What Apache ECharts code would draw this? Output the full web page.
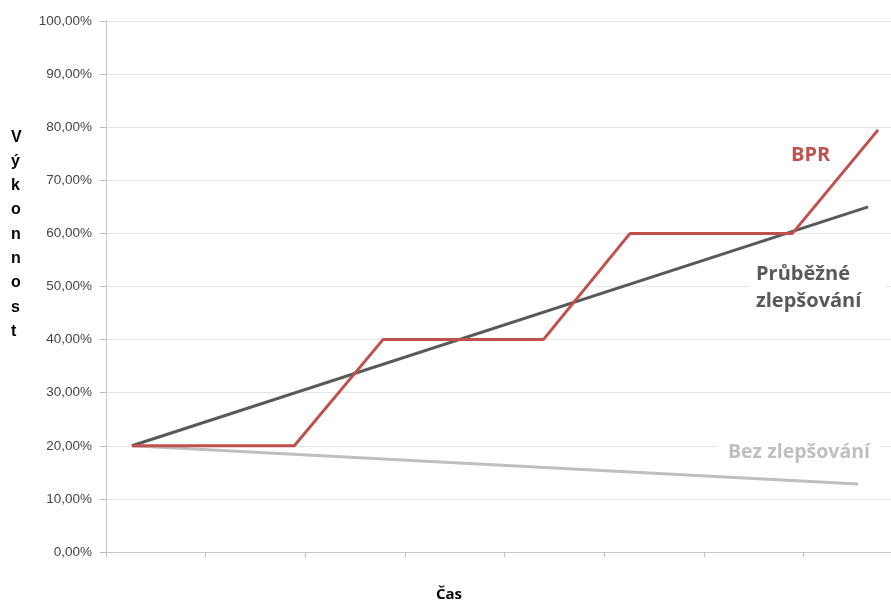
<!DOCTYPE html>
<html>
<head>
<meta charset="utf-8">
<script src="https://cdn.jsdelivr.net/npm/echarts@6/dist/echarts.min.js"></script>
<style>
  html, body { margin: 0; padding: 0; background: #fff; }
  #chart { width: 891px; height: 603px; }
</style>
</head>
<body>
<div id="chart"></div>
<script>
// Time positions (in axis units) and performance values (%)
const bprTime = [0.26, 1.89, 2.78, 4.39, 5.26, 6.89, 7.75];
const bprValues = [20, 20, 40, 40, 60, 60, 79.5];

const continuousTime = [0.26, 7.65];
const continuousValues = [20, 65];

const noImprovementTime = [0.26, 7.55];
const noImprovementValues = [20, 12.8];

const yTicks = [0, 10, 20, 30, 40, 50, 60, 70, 80, 90, 100];
const yTitle = 'Výkonnost';
const xTitle = 'Čas';

const pairs = (xs, ys) => xs.map((x, i) => [x, ys[i]]);

const chart = echarts.init(document.getElementById('chart'));

const textFont = '"Open Sans", "Liberation Sans", sans-serif';

chart.setOption({
  animation: false,
  backgroundColor: '#ffffff',
  grid: {
    left: 106, top: 21, bottom: 51, right: -12,
    outerBoundsMode: 'none'
  },
  xAxis: {
    type: 'value',
    min: 0, max: 8, interval: 1,
    axisLine: { show: true, lineStyle: { color: '#C8C8C8', width: 1 } },
    axisTick: { show: true, length: 5, lineStyle: { color: '#BDBDBD' } },
    axisLabel: { show: false },
    splitLine: { show: false }
  },
  yAxis: {
    type: 'value',
    min: yTicks[0], max: yTicks[yTicks.length - 1], interval: 10,
    axisLine: { show: true, lineStyle: { color: '#C8C8C8', width: 1 } },
    axisTick: { show: true, length: 6, lineStyle: { color: '#BDBDBD' } },
    axisLabel: {
      margin: 14,
      color: '#454545',
      fontSize: 13.5,
      fontFamily: '"Liberation Sans", sans-serif',
      formatter: v => v.toFixed(2).replace('.', ',') + '%'
    },
    splitLine: { show: true, lineStyle: { color: '#E6E6E6', width: 1 } }
  },
  series: [
    {
      name: 'Bez zlepšování',
      type: 'line',
      data: pairs(noImprovementTime, noImprovementValues),
      symbol: 'none',
      lineStyle: { color: '#BFBFBF', width: 3 },
      z: 2
    },
    {
      name: 'Průběžné zlepšování',
      type: 'line',
      data: pairs(continuousTime, continuousValues),
      symbol: 'none',
      lineStyle: { color: '#595959', width: 3 },
      z: 3
    },
    {
      name: 'BPR',
      type: 'line',
      data: pairs(bprTime, bprValues),
      symbol: 'none',
      lineStyle: { color: '#C0504D', width: 3 },
      z: 4
    }
  ],
  graphic: [
    {
      type: 'text', left: 791, top: 145, z: 10,
      style: { text: 'BPR', fill: '#C0504D', font: 'bold 20px ' + textFont }
    },
    {
      type: 'text', left: 750, top: 259, z: 10,
      style: {
        text: 'Průběžné\nzlepšování', fill: '#595959', align: 'center',
        font: 'bold 20px ' + textFont, lineHeight: 27,
        backgroundColor: '#ffffff', padding: [2, 6, 2, 6], width: 124
      }
    },
    {
      type: 'text', left: 718, top: 440, z: 10,
      style: {
        text: 'Bez zlepšování', fill: '#BFBFBF',
        font: 'bold 19.5px ' + textFont,
        backgroundColor: '#ffffff', padding: [2, 10, 2, 10]
      }
    },
    {
      type: 'text', left: 11, top: 125, z: 10,
      style: {
        text: yTitle.split('').join('\n'), fill: '#000000', align: 'center',
        font: 'bold 16px "Liberation Sans", sans-serif', lineHeight: 24.3, width: 16
      }
    },
    {
      type: 'text', left: 436, top: 587, z: 10,
      style: { text: xTitle, fill: '#000000', font: 'bold 15px ' + textFont }
    }
  ]
});
</script>
</body>
</html>
